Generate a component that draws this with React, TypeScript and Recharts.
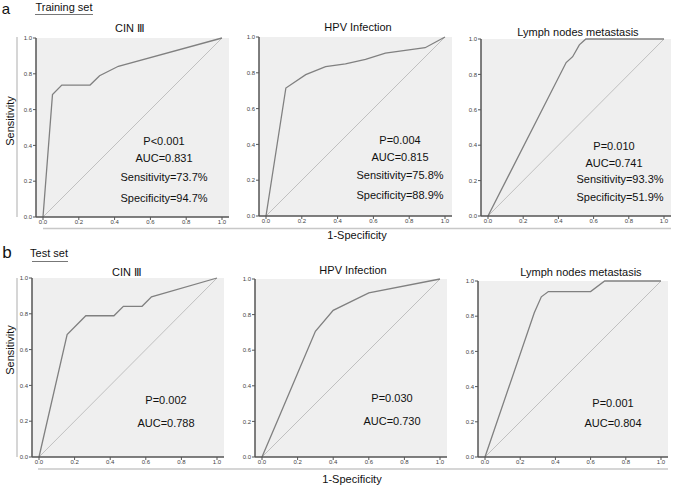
import React from 'react';
import { LineChart, Line, XAxis, YAxis, CartesianGrid } from 'recharts';

// ROC curves
const fprCinTrain = [0, 0.053, 0.105, 0.263, 0.316, 0.421, 1];
const tprCinTrain = [0, 0.684, 0.737, 0.737, 0.789, 0.842, 1];

const fprHpvTrain = [0, 0.111, 0.222, 0.333, 0.444, 0.556, 0.667, 0.778, 0.889, 1];
const tprHpvTrain = [0, 0.715, 0.79, 0.835, 0.85, 0.875, 0.91, 0.925, 0.94, 1];

const fprLnmTrain = [0, 0.444, 0.481, 0.519, 0.556, 1];
const tprLnmTrain = [0, 0.867, 0.9, 0.967, 1, 1];

const fprCinTest = [0, 0.158, 0.263, 0.421, 0.474, 0.579, 0.632, 1];
const tprCinTest = [0, 0.684, 0.789, 0.789, 0.842, 0.842, 0.895, 1];

const fprHpvTest = [0, 0.1, 0.2, 0.3, 0.4, 0.6, 1];
const tprHpvTest = [0, 0.235, 0.47, 0.706, 0.824, 0.922, 1];

const fprLnmTest = [0, 0.28, 0.32, 0.36, 0.6, 0.68, 1];
const tprLnmTest = [0, 0.82, 0.91, 0.94, 0.94, 1, 1];

const diagFpr = [0, 1];
const diagTpr = [0, 1];

const axisTicks = [0, 0.2, 0.4, 0.6, 0.8, 1];

const panelTitles = ['CIN \u2162', 'HPV Infection', 'Lymph nodes metastasis'];

const statsTrain = [
  ['P<0.001', 'AUC=0.831', 'Sensitivity=73.7%', 'Specificity=94.7%'],
  ['P=0.004', 'AUC=0.815', 'Sensitivity=75.8%', 'Specificity=88.9%'],
  ['P=0.010', 'AUC=0.741', 'Sensitivity=93.3%', 'Specificity=51.9%']
];
const statsTest = [
  ['P=0.002', 'AUC=0.788'],
  ['P=0.030', 'AUC=0.730'],
  ['P=0.001', 'AUC=0.804']
];

const FONT = '"Liberation Sans", Arial, Helvetica, sans-serif';

const toPoints = (fpr: number[], tpr: number[]) =>
  fpr.map((x, i) => ({ fpr: x, tpr: tpr[i] }));

const diagonal = toPoints(diagFpr, diagTpr);

type Box = { left: number; top: number; width: number; height: number };

const YW = 24;
const XH = 14;
const MT = 4;
const MR = 4;

function RocPanel({ box, fpr, tpr }: { box: Box; fpr: number[]; tpr: number[] }) {
  const curve = toPoints(fpr, tpr);
  return (
    <div style={{ position: 'absolute', left: box.left - YW, top: box.top - MT }}>
      <LineChart
        width={box.width + YW + MR}
        height={box.height + MT + XH}
        margin={{ top: MT, right: MR, bottom: 0, left: 0 }}
      >
        <CartesianGrid horizontal={false} vertical={false} fill="#efefef" stroke="none" />
        <XAxis
          dataKey="fpr"
          type="number"
          domain={[0, 1]}
          ticks={axisTicks}
          padding={{ left: 7, right: 7 }}
          height={XH}
          tickSize={3}
          tickMargin={0}
          interval={0}
          tickFormatter={(v: number) => v.toFixed(1)}
          tick={{ fontSize: 6, fill: '#444', fontFamily: FONT }}
          axisLine={{ stroke: '#555', strokeWidth: 1.5 }}
          tickLine={{ stroke: '#555' }}
        />
        <XAxis
          xAxisId="top"
          orientation="top"
          type="number"
          domain={[0, 1]}
          height={0}
          tick={false}
          tickLine={false}
          axisLine={{ stroke: '#888', strokeWidth: 1 }}
        />
        <YAxis
          type="number"
          domain={[0, 1]}
          ticks={axisTicks}
          width={YW}
          tickSize={3}
          tickMargin={1}
          interval={0}
          tickFormatter={(v: number) => v.toFixed(1)}
          tick={{ fontSize: 6, fill: '#444', fontFamily: FONT }}
          axisLine={{ stroke: '#555', strokeWidth: 1.5 }}
          tickLine={{ stroke: '#555' }}
        />
        <YAxis
          yAxisId="right"
          orientation="right"
          type="number"
          domain={[0, 1]}
          width={0}
          tick={false}
          tickLine={false}
          axisLine={{ stroke: '#888', strokeWidth: 1 }}
        />
        <Line
          data={diagonal}
          dataKey="tpr"
          type="linear"
          stroke="#b4b4b4"
          strokeWidth={0.8}
          dot={false}
          isAnimationActive={false}
        />
        <Line
          data={curve}
          dataKey="tpr"
          type="linear"
          stroke="#808080"
          strokeWidth={1.3}
          dot={false}
          isAnimationActive={false}
        />
      </LineChart>
    </div>
  );
}

const textStyle = { fontFamily: FONT, fill: '#111' };

export default function App() {
  return (
    <div style={{ position: 'absolute', left: 0, top: 0, width: 675, height: 487, background: '#fff', overflow: 'hidden' }}>
      <RocPanel box={{ left: 36, top: 38, width: 193, height: 179 }} fpr={fprCinTrain} tpr={tprCinTrain} />
      <RocPanel box={{ left: 259, top: 37, width: 193, height: 179 }} fpr={fprHpvTrain} tpr={tprHpvTrain} />
      <RocPanel box={{ left: 481, top: 39, width: 190, height: 177 }} fpr={fprLnmTrain} tpr={tprLnmTrain} />
      <RocPanel box={{ left: 32, top: 278, width: 192, height: 179 }} fpr={fprCinTest} tpr={tprCinTest} />
      <RocPanel box={{ left: 255, top: 279, width: 192, height: 178 }} fpr={fprHpvTest} tpr={tprHpvTest} />
      <RocPanel box={{ left: 478, top: 281, width: 190, height: 176 }} fpr={fprLnmTest} tpr={tprLnmTest} />

      <svg width={675} height={487} style={{ position: 'absolute', left: 0, top: 0, pointerEvents: 'none' }}>
        {/* frame lines */}
        <line x1={17} y1={37} x2={17} y2={217} stroke="#c8c8c8" strokeWidth={1.5} />
        <line x1={43} y1={228.5} x2={671} y2={228.5} stroke="#c8c8c8" strokeWidth={1.5} />
        <line x1={17} y1={278} x2={17} y2={457} stroke="#c8c8c8" strokeWidth={1.5} />
        <line x1={38} y1={469} x2={668} y2={469} stroke="#c8c8c8" strokeWidth={1.5} />

        {/* section labels */}
        <text x={6} y={14} fontSize={15} textAnchor="middle" style={textStyle}>a</text>
        <text x={64} y={7} fontSize={11} textAnchor="middle" dominantBaseline="central" style={textStyle}>Training set</text>
        <line x1={35} y1={14.5} x2={93} y2={14.5} stroke="#777" strokeWidth={1} />
        <text x={7} y={258} fontSize={17} textAnchor="middle" style={textStyle}>b</text>
        <text x={49} y={253} fontSize={11} textAnchor="middle" dominantBaseline="central" style={textStyle}>Test set</text>
        <line x1={32} y1={261.5} x2={68} y2={261.5} stroke="#777" strokeWidth={1} />

        {/* panel titles */}
        <text x={130} y={28} fontSize={11} textAnchor="middle" dominantBaseline="central" style={textStyle}>{panelTitles[0]}</text>
        <text x={358} y={27} fontSize={11} textAnchor="middle" dominantBaseline="central" style={textStyle}>{panelTitles[1]}</text>
        <text x={578} y={32} fontSize={11} textAnchor="middle" dominantBaseline="central" style={textStyle}>{panelTitles[2]}</text>
        <text x={127} y={272} fontSize={11} textAnchor="middle" dominantBaseline="central" style={textStyle}>{panelTitles[0]}</text>
        <text x={353} y={270} fontSize={11} textAnchor="middle" dominantBaseline="central" style={textStyle}>{panelTitles[1]}</text>
        <text x={581} y={272} fontSize={11} textAnchor="middle" dominantBaseline="central" style={textStyle}>{panelTitles[2]}</text>

        {/* axis labels */}
        <text x={10} y={121} fontSize={11} textAnchor="middle" dominantBaseline="central" transform="rotate(-90 10 121)" style={textStyle}>Sensitivity</text>
        <text x={10} y={350} fontSize={11} textAnchor="middle" dominantBaseline="central" transform="rotate(-90 10 350)" style={textStyle}>Sensitivity</text>
        <text x={357} y={235} fontSize={11} textAnchor="middle" dominantBaseline="central" style={textStyle}>1-Specificity</text>
        <text x={352} y={479} fontSize={11} textAnchor="middle" dominantBaseline="central" style={textStyle}>1-Specificity</text>

        {/* stats: training */}
        {statsTrain[0].map((s, i) => (
          <text key={'a' + i} x={164} y={[141, 158, 177, 198][i]} fontSize={11} textAnchor="middle" dominantBaseline="central" style={textStyle}>{s}</text>
        ))}
        {statsTrain[1].map((s, i) => (
          <text key={'b' + i} x={400} y={[140, 157, 175, 195][i]} fontSize={11} textAnchor="middle" dominantBaseline="central" style={textStyle}>{s}</text>
        ))}
        {statsTrain[2].map((s, i) => (
          <text key={'c' + i} x={[614, 614, 620, 620][i]} y={[146, 163, 179, 197][i]} fontSize={11} textAnchor="middle" dominantBaseline="central" style={textStyle}>{s}</text>
        ))}

        {/* stats: test */}
        {statsTest[0].map((s, i) => (
          <text key={'d' + i} x={166} y={[400, 423][i]} fontSize={11} textAnchor="middle" dominantBaseline="central" style={textStyle}>{s}</text>
        ))}
        {statsTest[1].map((s, i) => (
          <text key={'e' + i} x={392} y={[398, 421][i]} fontSize={11} textAnchor="middle" dominantBaseline="central" style={textStyle}>{s}</text>
        ))}
        {statsTest[2].map((s, i) => (
          <text key={'f' + i} x={613} y={[403, 423][i]} fontSize={11} textAnchor="middle" dominantBaseline="central" style={textStyle}>{s}</text>
        ))}
      </svg>
    </div>
  );
}
